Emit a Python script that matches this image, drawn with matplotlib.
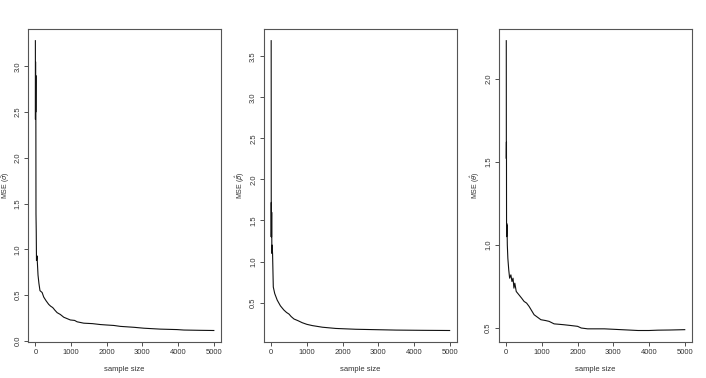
"""MSE of the three estimators against sample size"""

import matplotlib
matplotlib.use('Agg')
from matplotlib import pyplot as plt

# values
n_sigma = [1, 3, 6, 9, 13, 18, 25, 32, 47, 75, 100, 130, 160, 190, 235, 300, 375,
           430, 470, 500, 540, 610, 700, 795, 980, 1100, 1170, 1355, 1600, 1820,
           2000, 2200, 2380, 2760, 3040, 3500, 3970, 4160, 4600, 5000]
mse_sigma = [3.28, 2.42, 3.05, 2.50, 2.90, 1.39, 1.20, 0.88, 0.93, 0.72, 0.63, 0.55,
             0.54, 0.53, 0.48, 0.44, 0.40, 0.38, 0.37, 0.36, 0.34, 0.31, 0.29, 0.26,
             0.23, 0.225, 0.21, 0.195, 0.19, 0.18, 0.175, 0.17, 0.16, 0.15, 0.14,
             0.13, 0.125, 0.12, 0.117, 0.115]

n_beta = [1, 3, 6, 10, 15, 20, 28, 40, 60, 100, 170, 260, 355, 430, 500, 560, 640,
          750, 870, 1000, 1150, 1435, 1810, 2370, 2935, 3500, 4250, 5000]
mse_beta = [3.69, 1.30, 1.72, 1.30, 1.60, 1.10, 1.20, 1.09, 0.69, 0.61, 0.53, 0.46,
            0.41, 0.38, 0.36, 0.33, 0.30, 0.28, 0.255, 0.235, 0.22, 0.20, 0.185,
            0.175, 0.17, 0.165, 0.162, 0.16]

n_theta = [1, 3, 6, 9, 12, 16, 22, 30, 45, 70, 95, 130, 160, 190, 215, 240, 280,
           355, 430, 500, 570, 640, 780, 970, 1100, 1200, 1340, 1600, 1810, 2000,
           2100, 2280, 2750, 3220, 3690, 4000, 4250, 4600, 5000]
mse_theta = [2.23, 1.52, 1.62, 1.05, 1.13, 1.07, 1.12, 1.00, 0.92, 0.85, 0.80, 0.82,
             0.78, 0.80, 0.74, 0.77, 0.72, 0.70, 0.68, 0.66, 0.65, 0.63, 0.58,
             0.55, 0.545, 0.54, 0.525, 0.52, 0.515, 0.51, 0.50, 0.495, 0.495, 0.49,
             0.485, 0.485, 0.487, 0.488, 0.49]

panels = [
    (n_sigma, mse_sigma, r'MSE ($\hat{\sigma}$)', [0.0, 0.5, 1.0, 1.5, 2.0, 2.5, 3.0]),
    (n_beta, mse_beta, r'MSE ($\hat{\beta}$)', [0.5, 1.0, 1.5, 2.0, 2.5, 3.0, 3.5]),
    (n_theta, mse_theta, r'MSE ($\hat{\theta}$)', [0.5, 1.0, 1.5, 2.0]),
]
x_ticks = [0, 1000, 2000, 3000, 4000, 5000]

plt.rcParams['font.family'] = ['Liberation Sans', 'DejaVu Sans']
plt.rcParams['mathtext.fontset'] = 'dejavusans'

fig = plt.figure(figsize=(7.06, 3.78), dpi=100)
lefts = [0.040, 0.374, 0.707]

for left, (n, mse, label, y_ticks) in zip(lefts, panels):
    ax = fig.add_axes([left, 0.095, 0.273, 0.828])
    ax.plot(n, mse, color='#111111', linewidth=0.8)

    lo, hi = min(mse), max(mse)
    pad = (hi - lo) * 0.04
    ax.set_ylim(lo - pad, hi + pad)
    ax.set_xlim(-199, 5200)

    ax.set_xticks(x_ticks)
    ax.set_yticks(y_ticks)
    ax.set_yticklabels([f'{v:.1f}' for v in y_ticks], rotation=90, va='center')
    ax.tick_params(direction='out', length=3, width=0.6, labelsize=5.5,
                   colors='#333333', pad=2)
    for spine in ax.spines.values():
        spine.set_color('#555555')
        spine.set_linewidth(0.8)

    ax.set_xlabel('sample size', fontsize=5.5, color='#333333', labelpad=7)
    ax.set_ylabel(label, fontsize=5, color='#333333', labelpad=2)

plt.savefig('out.png', dpi=100)
